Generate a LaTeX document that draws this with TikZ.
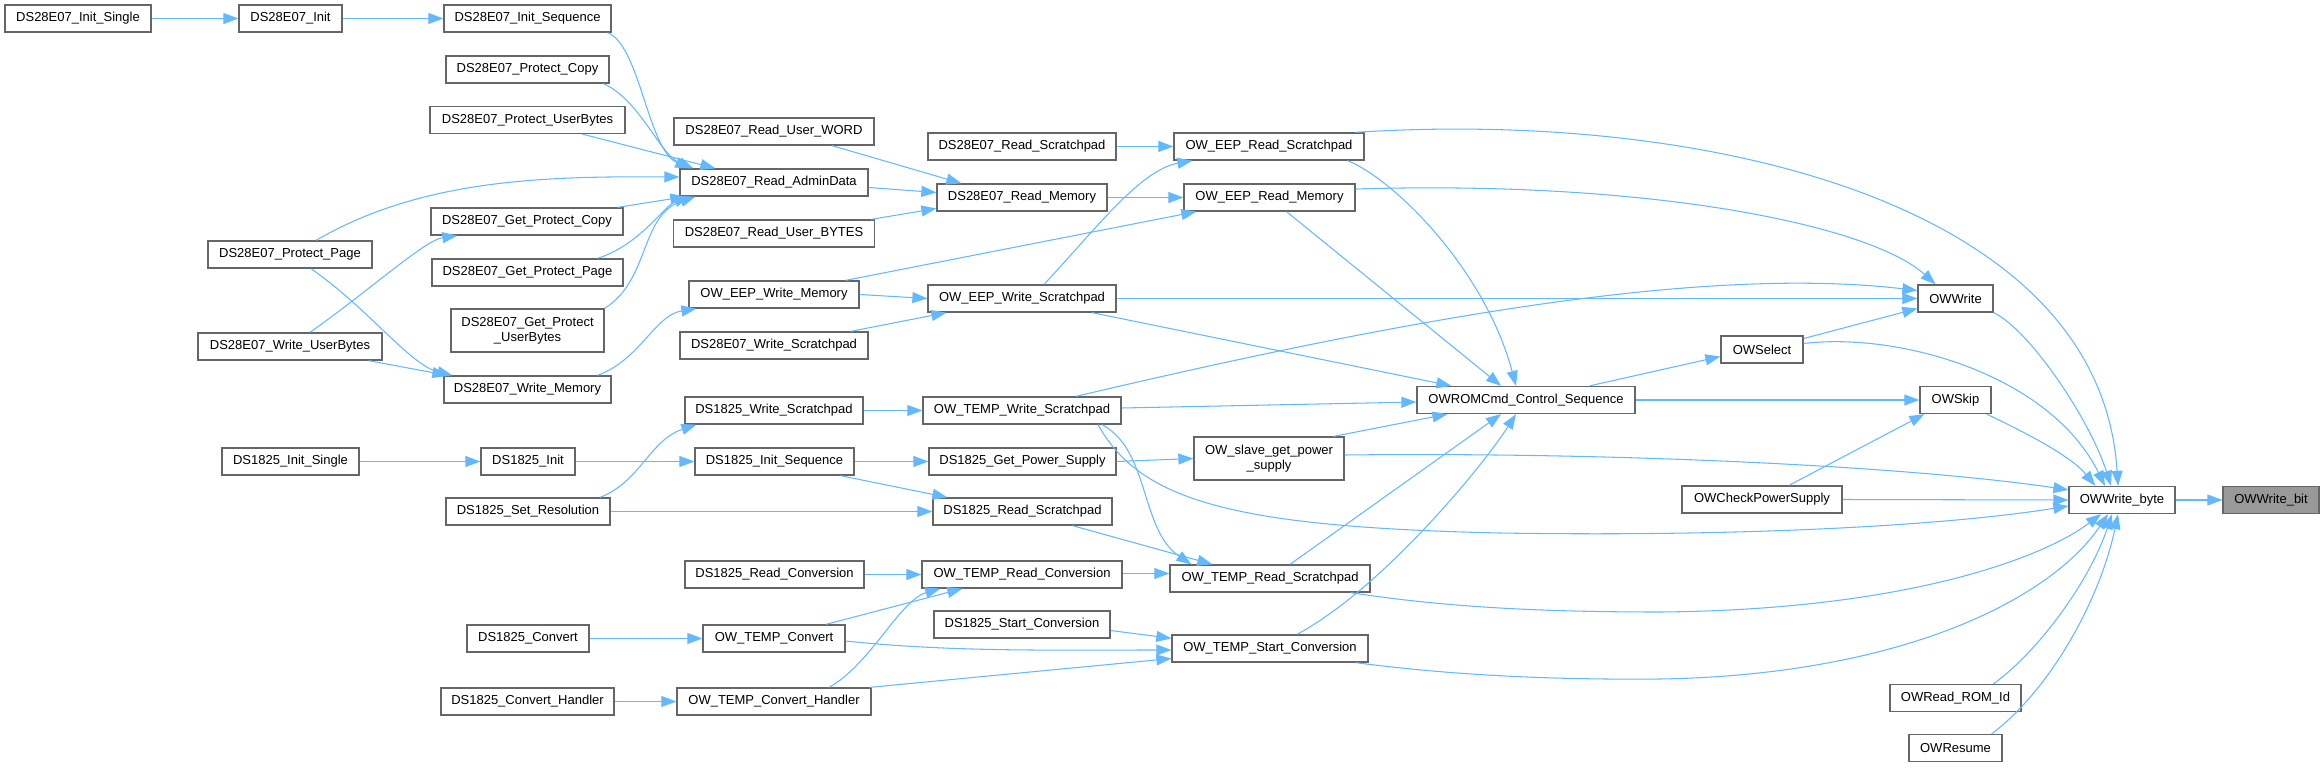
\documentclass[tikz,border=0pt]{standalone}
\usepackage{fontspec}
\setmainfont{Liberation Sans}
\usetikzlibrary{arrows.meta,calc}
\definecolor{edgeblue}{HTML}{63B8FF}
\definecolor{boxgray}{HTML}{666666}
\definecolor{fillgray}{HTML}{999999}
\tikzset{
  fn/.style={draw=boxgray, line width=1.3pt, fill=white, inner sep=0pt,
    minimum height=27pt, font=\fontsize{13pt}{15pt}\selectfont, text=black, align=center},
  call/.style={draw=edgeblue, line width=1.05pt, -{Triangle[length=15pt,width=11pt]}},
}
\begin{document}
\begin{tikzpicture}[x=1pt,y=-1pt]
\useasboundingbox (0,0) rectangle (2324,773);
% rank 10/9
\node[fn, minimum width=146pt] (initsingle28) at (78,18.5) {DS28E07\_Init\_Single};
\node[fn, minimum width=103pt] (init28) at (290.5,18.5) {DS28E07\_Init};
\node[fn, minimum width=164pt] (protpage) at (290,254.5) {DS28E07\_Protect\_Page};
\node[fn, minimum width=184pt] (writeub) at (290,346.5) {DS28E07\_Write\_UserBytes};
\node[fn, minimum width=137pt] (initsingle18) at (290.5,461.5) {DS1825\_Init\_Single};
% rank 8
\node[fn, minimum width=167pt] (initseq28) at (527.5,18.5) {DS28E07\_Init\_Sequence};
\node[fn, minimum width=163pt] (protcopy) at (527.5,69.5) {DS28E07\_Protect\_Copy};
\node[fn, minimum width=195pt] (protub) at (527.5,120) {DS28E07\_Protect\_UserBytes};
\node[fn, minimum width=192pt] (getprotcopy) at (527,221.5) {DS28E07\_Get\_Protect\_Copy};
\node[fn, minimum width=191pt] (getprotpage) at (527.5,272.5) {DS28E07\_Get\_Protect\_Page};
\node[fn, minimum width=153pt, minimum height=43pt] (getprotub) at (527.5,330.5) {DS28E07\_Get\_Protect\\\_UserBytes};
\node[fn, minimum width=167pt] (wmem28) at (527.5,389.5) {DS28E07\_Write\_Memory};
\node[fn, minimum width=94pt] (init18) at (528,461.5) {DS1825\_Init};
\node[fn, minimum width=164pt] (setres) at (528,511.5) {DS1825\_Set\_Resolution};
\node[fn, minimum width=122pt] (convert18) at (528,638.5) {DS1825\_Convert};
\node[fn, minimum width=173pt] (convhandler18) at (527.5,701.5) {DS1825\_Convert\_Handler};
% rank 7
\node[fn, minimum width=200pt] (rduword) at (774,131.5) {DS28E07\_Read\_User\_WORD};
\node[fn, minimum width=188pt] (rdadmin) at (774,182.5) {DS28E07\_Read\_AdminData};
\node[fn, minimum width=201pt] (rdubytes) at (774,233.5) {DS28E07\_Read\_User\_BYTES};
\node[fn, minimum width=170pt] (eepwmem) at (774,294.5) {OW\_EEP\_Write\_Memory};
\node[fn, minimum width=188pt] (wscratch28) at (774,345.5) {DS28E07\_Write\_Scratchpad};
\node[fn, minimum width=178pt] (wscratch18) at (774,410.5) {DS1825\_Write\_Scratchpad};
\node[fn, minimum width=159pt] (initseq18) at (774.5,461.5) {DS1825\_Init\_Sequence};
\node[fn, minimum width=179pt] (rdconv18) at (774.5,574.5) {DS1825\_Read\_Conversion};
\node[fn, minimum width=142pt] (tempconvert) at (774,638.5) {OW\_TEMP\_Convert};
\node[fn, minimum width=194pt] (tempconvhandler) at (774,701.5) {OW\_TEMP\_Convert\_Handler};
% rank 6
\node[fn, minimum width=188pt] (rdscratch28) at (1022,146.5) {DS28E07\_Read\_Scratchpad};
\node[fn, minimum width=170pt] (rdmem28) at (1022,197.5) {DS28E07\_Read\_Memory};
\node[fn, minimum width=188pt] (eepwscratch) at (1022,298.5) {OW\_EEP\_Write\_Scratchpad};
\node[fn, minimum width=198pt] (tempwscratch) at (1022,410.5) {OW\_TEMP\_Write\_Scratchpad};
\node[fn, minimum width=187pt] (getpower18) at (1022.5,461.5) {DS1825\_Get\_Power\_Supply};
\node[fn, minimum width=179pt] (rdscratch18) at (1022.5,511.5) {DS1825\_Read\_Scratchpad};
\node[fn, minimum width=200pt] (temprconv) at (1022,574.5) {OW\_TEMP\_Read\_Conversion};
\node[fn, minimum width=176pt] (startconv18) at (1022,624.5) {DS1825\_Start\_Conversion};
% rank 5
\node[fn, minimum width=190pt] (eeprscratch) at (1269,146.5) {OW\_EEP\_Read\_Scratchpad};
\node[fn, minimum width=171pt] (eeprmem) at (1269.5,197.5) {OW\_EEP\_Read\_Memory};
\node[fn, minimum width=150pt, minimum height=43pt] (slavepower) at (1269,458.5) {OW\_slave\_get\_power\\\_supply};
\node[fn, minimum width=200pt] (temprscratch) at (1270,578.5) {OW\_TEMP\_Read\_Scratchpad};
\node[fn, minimum width=196pt] (tempstartconv) at (1270,648.5) {OW\_TEMP\_Start\_Conversion};
% rank 4..0
\node[fn, minimum width=218pt] (romcmd) at (1526,400) {OWROMCmd\_Control\_Sequence};
\node[fn, minimum width=82pt] (owselect) at (1762,349.5) {OWSelect};
\node[fn, minimum width=160pt] (owcheck) at (1762,499.5) {OWCheckPowerSupply};
\node[fn, minimum width=75pt] (owwrite) at (1955.5,298.5) {OWWrite};
\node[fn, minimum width=71pt] (owskip) at (1955.5,400) {OWSkip};
\node[fn, minimum width=131pt] (owreadrom) at (1955.5,698) {OWRead\_ROM\_Id};
\node[fn, minimum width=93pt] (owresume) at (1955.5,748) {OWResume};
\node[fn, minimum width=106pt] (owwbyte) at (2122,500) {OWWrite\_byte};
\node[fn, minimum width=96pt, fill=fillgray] (owwbit) at (2271,500) {OWWrite\_bit};

% edges
\draw[call] (initsingle28.east) -- (init28.west);
\draw[call] (init28.east) -- (initseq28.west);
\draw[call] ($(initseq28.south)+(80,0)$) .. controls (640,45) and (648,150) .. ($(rdadmin.north west)+(11,0)$);
\draw[call] ($(protcopy.south)+(76,0)$) .. controls (640,100) and (660,155) .. ($(rdadmin.north west)+(14,0)$);
\draw[call] ($(protub.south)+(55,0)$) -- ($(rdadmin.north west)+(36,0)$);
\draw[call] ($(protpage.north)+(26,0)$) .. controls (420,180) and (540,176) .. ($(rdadmin.west)+(0,-5.5)$);
\draw[call] ($(getprotcopy.north east)+(-6,0)$) -- ($(rdadmin.south west)+(6,0)$);
\draw[call] ($(getprotpage.north)+(70,0)$) .. controls (640,245) and (665,205) .. ($(rdadmin.south west)+(10,0)$);
\draw[call] (getprotub.north east) .. controls (650,280) and (640,215) .. ($(rdadmin.south west)+(16,0)$);
\draw[call] ($(writeub.north)+(20,0)$) .. controls (370,290) and (425,240) .. ($(getprotcopy.south west)+(27,0)$);
\draw[call] ($(protpage.south)+(21,0)$) .. controls (370,310) and (410,365) .. ($(wmem28.north west)+(9,0)$);
\draw[call] ($(writeub.south east)+(-14,0)$) -- ($(wmem28.north west)+(4,0)$);
\draw[call] ($(wmem28.north)+(70,0)$) .. controls (640,360) and (655,315) .. ($(eepwmem.south west)+(8,0)$);

\draw[call] ($(rduword.south)+(58,0)$) -- ($(rdmem28.north west)+(25,0)$);
\draw[call] ($(rdadmin.east)+(0,5)$) -- ($(rdmem28.west)+(0,-5)$);
\draw[call] ($(rdubytes.north east)+(-4,0)$) -- ($(rdmem28.west)+(0,11)$);
\draw[call] (rdscratch28.east) -- (eeprscratch.west);
\draw[call] (rdmem28.east) -- (eeprmem.west);
\draw[call] ($(eepwmem.north east)+(-14,0)$) -- ($(eeprmem.south west)+(13,0)$);
\draw[call] (eepwmem.east) -- (eepwscratch.west);
\draw[call] ($(wscratch28.north east)+(-18,0)$) -- ($(eepwscratch.south west)+(19,0)$);
\draw[call] ($(eepwscratch.north)+(22,0)$) .. controls (1095,230) and (1140,170) .. ($(eeprscratch.south west)+(19,0)$);
\draw[call] ($(eeprscratch.south east)+(-17,0)$) .. controls (1395,180) and (1485,270) .. ($(romcmd.north)+(-10,0)$);
\draw[call] ($(eeprmem.south)+(17,0)$) -- ($(romcmd.north)+(-25,0)$);
\draw[call] ($(eepwscratch.south)+(70,0)$) -- ($(romcmd.north west)+(35,0)$);
\draw[call] ($(eeprscratch.north east)+(-9,0)$) .. controls (1700,110) and (2100,200) .. ($(owwbyte.north)+(-4,0)$);
\draw[call] ($(eeprmem.east)+(0,-8.5)$) .. controls (1650,180) and (1870,225) .. ($(owwrite.north)+(-20,0)$);
\draw[call] (eepwscratch.east) -- (owwrite.west);
\draw[call] ($(tempwscratch.north)+(54,0)$) .. controls (1400,320) and (1700,265) .. ($(owwrite.west)+(0,-8)$);
\draw[call] ($(owselect.east)+(0,-11)$) -- ($(owwrite.west)+(0,10)$);
\draw[call] (owwrite.south east) .. controls (2030,330) and (2090,420) .. ($(owwbyte.north)+(-11,0)$);
\draw[call] ($(owselect.east)+(0,-6)$) .. controls (1900,332) and (2050,375) .. ($(owwbyte.north)+(-17,0)$);
\draw[call] ($(romcmd.north east)+(-46,0)$) -- ($(owselect.west)+(0,7)$);
\draw[call] (romcmd.east) -- (owskip.west);
\draw[call] ($(owskip.south east)+(-5,0)$) .. controls (2020,430) and (2070,455) .. ($(owwbyte.north west)+(27,0)$);
\draw[call] ($(owcheck.north)+(27,0)$) -- ($(owskip.south west)+(5,0)$);
\draw[call] (owcheck.east) -- (owwbyte.west);
\draw[call] (owwbyte.east) -- (owwbit.west);
\draw[call] ($(slavepower.east)+(0,-3.5)$) .. controls (1600,452) and (1900,465) .. ($(owwbyte.north west)+(0,4)$);
\draw[call] ($(tempwscratch.south)+(76,0)$) .. controls (1140,500) and (1230,527) .. (1500,533) .. controls (1750,537) and (1950,525) .. ($(owwbyte.west)+(0,6)$);
\draw[call] ($(tempwscratch.south)+(80,0)$) .. controls (1150,450) and (1140,530) .. ($(temprscratch.north west)+(22,0)$);
\draw[call] (wscratch18.east) -- (tempwscratch.west);
\draw[call] ($(tempwscratch.east)+(0,-2.5)$) -- ($(romcmd.west)+(0,2)$);
\draw[call] ($(slavepower.north east)+(-11,0)$) -- ($(romcmd.south west)+(31,0)$);
\draw[call] (initseq18.east) -- (getpower18.west);
\draw[call] (getpower18.east) -- (slavepower.west);
\draw[call] ($(initseq18.south)+(66,0)$) -- ($(rdscratch18.north west)+(15,0)$);
\draw[call] (setres.east) -- (rdscratch18.west);
\draw[call] ($(setres.north)+(72,0)$) .. controls (640,482) and (650,440) .. ($(wscratch18.south west)+(12,0)$);
\draw[call] (init18.east) -- (initseq18.west);
\draw[call] (initsingle18.east) -- (init18.west);
\draw[call] ($(rdscratch18.south)+(50,0)$) -- ($(temprscratch.north west)+(43,0)$);
\draw[call] ($(temprscratch.north)+(20,0)$) -- ($(romcmd.south)+(-25,0)$);
\draw[call] ($(tempstartconv.north)+(27,0)$) .. controls (1380,590) and (1480,470) .. ($(romcmd.south)+(-10,0)$);
\draw[call] (rdconv18.east) -- (temprconv.west);
\draw[call] ($(temprconv.east)+(0,-1)$) -- ($(temprscratch.west)+(0,-5)$);
\draw[call] ($(tempconvert.north)+(52,0)$) -- ($(temprconv.south west)+(41,0)$);
\draw[call] ($(tempconvhandler.north)+(55,0)$) .. controls (870,665) and (900,600) .. ($(temprconv.south west)+(19,0)$);
\draw[call] ($(startconv18.east)+(0,6)$) -- ($(tempstartconv.north west)+(0,4)$);
\draw[call] ($(tempconvert.east)+(0,2.5)$) .. controls (950,652) and (1050,650) .. ($(tempstartconv.west)+(0,1.5)$);
\draw[call] ($(tempconvhandler.north east)+(-2,0)$) -- ($(tempstartconv.west)+(0,10)$);
\draw[call] (convert18.east) -- (tempconvert.west);
\draw[call] (convhandler18.east) -- (tempconvhandler.west);
\draw[call] ($(temprscratch.south east)+(-20,0)$) .. controls (1450,608) and (1550,612) .. (1660,612) .. controls (1900,610) and (2040,560) .. ($(owwbyte.south)+(-21,0)$);
\draw[call] ($(tempstartconv.south east)+(-13,0)$) .. controls (1450,675) and (1550,680) .. (1660,679) .. controls (1900,675) and (2050,600) .. ($(owwbyte.south)+(-14,0)$);
\draw[call] ($(owreadrom.north)+(38,0)$) .. controls (2040,650) and (2090,580) .. ($(owwbyte.south)+(-10,0)$);
\draw[call] ($(owresume.north east)+(-11,0)$) .. controls (2050,690) and (2100,600) .. ($(owwbyte.south)+(-4,0)$);
\end{tikzpicture}
\end{document}
